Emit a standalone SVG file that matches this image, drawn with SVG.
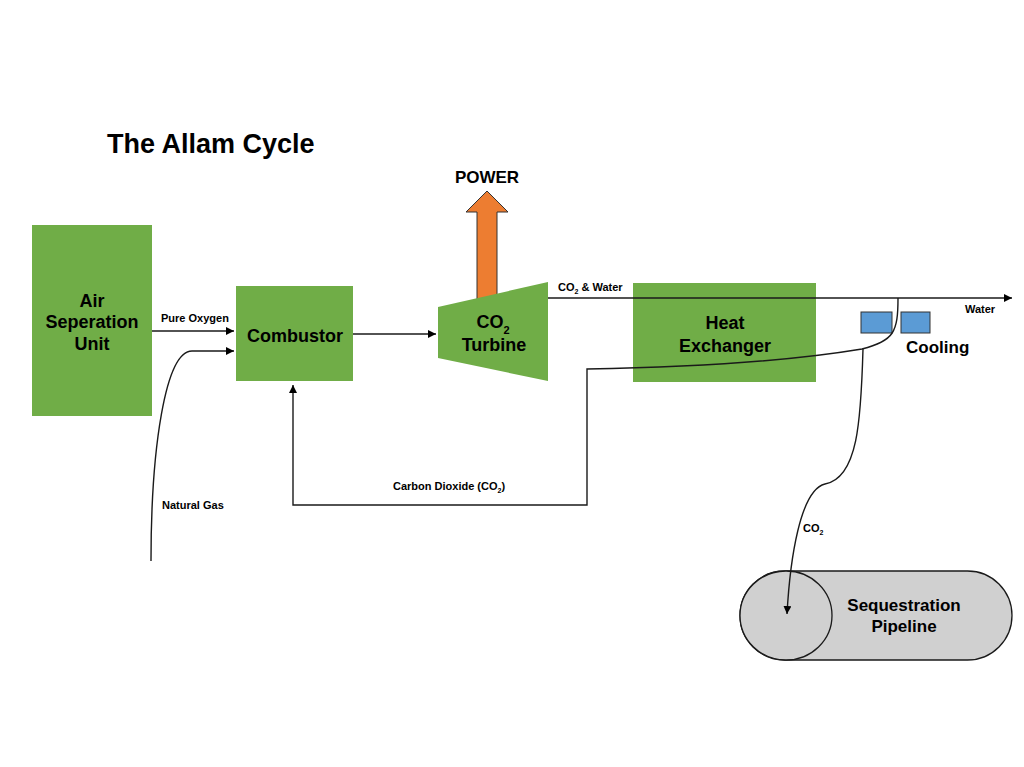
<svg xmlns="http://www.w3.org/2000/svg" width="1024" height="767" viewBox="0 0 1024 767">
<style>
.box{fill:#70AD47;}
.lbl{font-family:"Liberation Sans",Arial,sans-serif;font-weight:bold;font-size:18px;fill:#000;text-anchor:middle;}
.sm{font-family:"Liberation Sans",Arial,sans-serif;font-weight:bold;font-size:11px;fill:#000;}
.ln{fill:none;stroke:#1a1a1a;stroke-width:1.4;}
.cool{fill:#5B9BD5;stroke:#333;stroke-width:1;}
</style>
<defs>
<marker id="ah" viewBox="0 0 10 10" refX="10" refY="5" markerWidth="8" markerHeight="8" markerUnits="userSpaceOnUse" orient="auto">
<path d="M0,0 L10,5 L0,10 Z" fill="#000"/>
</marker>
</defs>
<rect width="1024" height="767" fill="#fff"/>
<text x="107" y="153" style="font-family:'Liberation Sans',Arial,sans-serif;font-weight:bold;font-size:27px">The Allam Cycle</text>

<g id="power">
<polygon points="477,305 477,212 466,212 487,191 508,212 497,212 497,305" fill="#ED7D31" stroke="#333" stroke-width="1"/>
<text class="lbl" x="487" y="183" style="font-size:17px">POWER</text>
</g>

<g id="asu">
<rect class="box" x="32" y="225" width="120" height="191"/>
<text class="lbl" x="92" y="307">Air</text>
<text class="lbl" x="92" y="328">Seperation</text>
<text class="lbl" x="92" y="350">Unit</text>
</g>

<g id="combustor">
<rect class="box" x="236" y="286" width="117" height="95"/>
<text class="lbl" x="295" y="342">Combustor</text>
</g>

<g id="turbine">
<polygon class="box" points="438,307 548,282 548,381 438,358"/>
<text class="lbl" x="493" y="328">CO<tspan dy="6" style="font-size:11px">2</tspan></text>
<text class="lbl" x="494" y="351">Turbine</text>
</g>

<g id="heat-exchanger">
<rect class="box" x="633" y="283" width="183" height="99"/>
<text class="lbl" x="725" y="329">Heat</text>
<text class="lbl" x="725" y="352">Exchanger</text>
</g>

<g id="cooling">
<rect class="cool" x="861" y="312" width="31" height="21"/>
<rect class="cool" x="901" y="312" width="29" height="21"/>
<text class="lbl" x="906" y="353" style="text-anchor:start;font-size:17px">Cooling</text>
</g>

<g id="pipeline">
<rect x="740" y="571" width="272" height="89" rx="44.5" ry="44.5" fill="#D0D0D0" stroke="#1a1a1a" stroke-width="1.3"/>
<ellipse cx="786" cy="615.5" rx="46" ry="44.5" fill="#D0D0D0" stroke="#1a1a1a" stroke-width="1.3"/>
<text class="lbl" x="904" y="611" style="font-size:17px">Sequestration</text>
<text class="lbl" x="904" y="632" style="font-size:17px">Pipeline</text>
</g>

<g id="connectors">
<path class="ln" d="M152,331 H234" marker-end="url(#ah)"/>
<path class="ln" d="M151,561 C151,450 165,351 192,351 H234" marker-end="url(#ah)"/>
<path class="ln" d="M353,334 H436" marker-end="url(#ah)"/>
<path class="ln" d="M548,298 H1012" marker-end="url(#ah)"/>
<path class="ln" d="M898,298 C898,332 894,341 862,349 Q760,366 587,369 V505 H293 V385" marker-end="url(#ah)"/>
<path class="ln" d="M863,349 C861,420 858,478 825,484 C800,490 790,560 787,614" marker-end="url(#ah)"/>
<text class="sm" x="161" y="322">Pure Oxygen</text>
<text class="sm" x="162" y="509">Natural Gas</text>
<text class="sm" x="393" y="490">Carbon Dioxide (CO<tspan dy="3" style="font-size:7px">2</tspan><tspan dy="-3">)</tspan></text>
<text class="sm" x="558" y="291">CO<tspan dy="3" style="font-size:7px">2</tspan><tspan dy="-3"> &amp; Water</tspan></text>
<text class="sm" x="965" y="313">Water</text>
<text class="sm" x="803" y="532">CO<tspan dy="3" style="font-size:7px">2</tspan></text>
</g>
</svg>
